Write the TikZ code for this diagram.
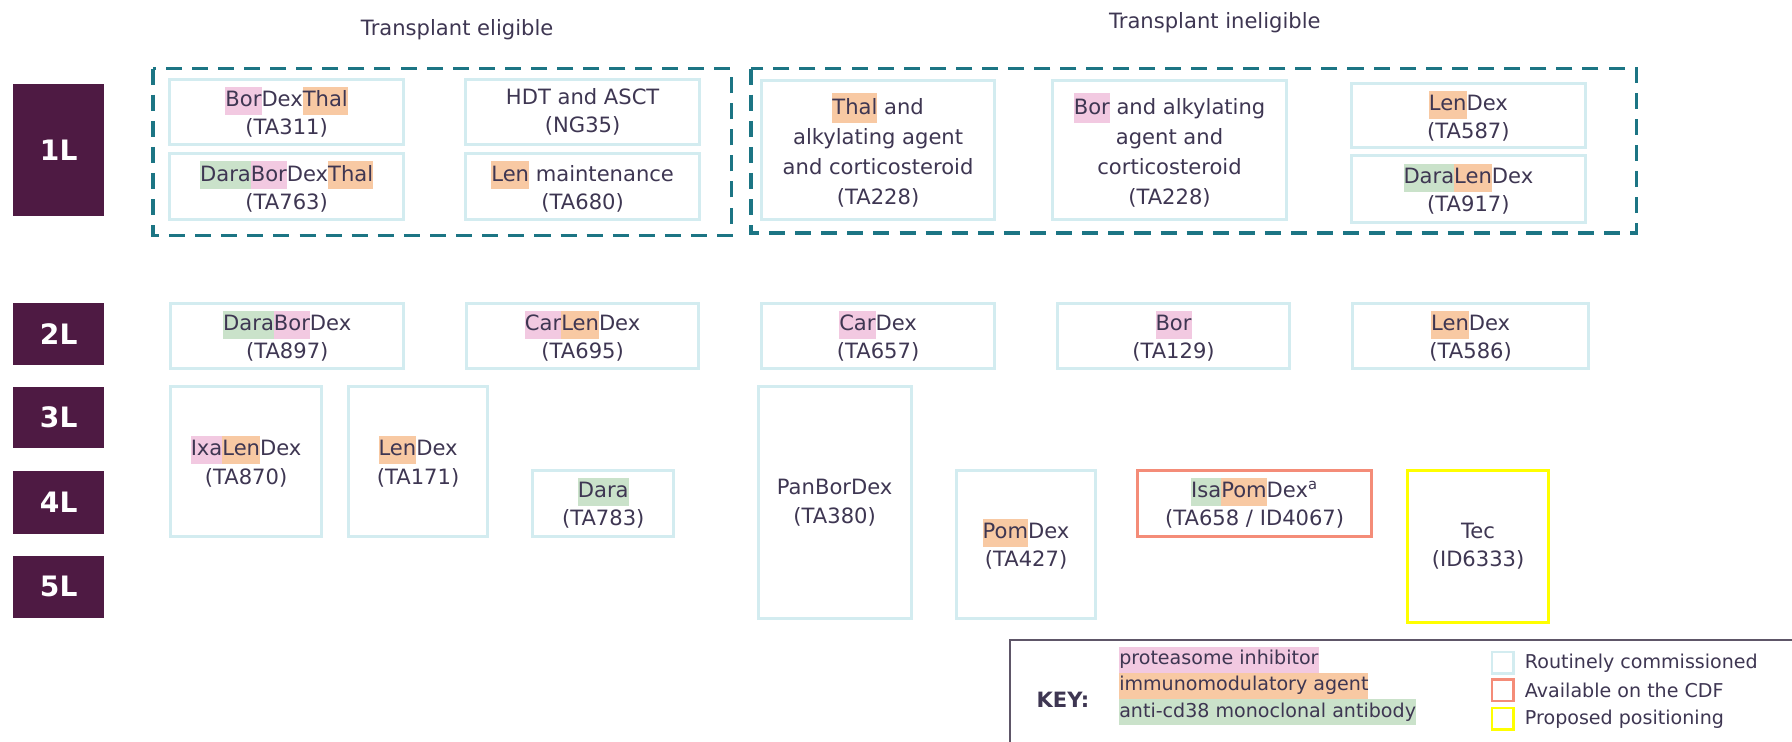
\documentclass[tikz,border=0pt]{standalone}
\usepackage{fontspec}
\setmainfont{DejaVu Sans}
\definecolor{plum}{HTML}{4E1A43}
\definecolor{groupteal}{HTML}{1C7584}
\definecolor{routine}{HTML}{D3ECF0}
\definecolor{cdf}{HTML}{F48C78}
\definecolor{proposed}{HTML}{FFFF00}
\definecolor{pinkhl}{HTML}{F2C9E1}
\definecolor{orangehl}{HTML}{F8C9A3}
\definecolor{greenhl}{HTML}{CAE2CA}
\definecolor{txt}{HTML}{3E3652}
\definecolor{keyline}{HTML}{5E5668}
% resaltado por clase de farmaco
\newcommand{\hlp}[1]{{\setlength{\fboxsep}{0pt}\colorbox{pinkhl}{\strut #1}}}
\newcommand{\hlo}[1]{{\setlength{\fboxsep}{0pt}\colorbox{orangehl}{\strut #1}}}
\newcommand{\hlg}[1]{{\setlength{\fboxsep}{0pt}\colorbox{greenhl}{\strut #1}}}
\begin{document}
\begin{tikzpicture}[x=0.02cm, y=-0.02cm,
    lvl/.style={fill=plum, text=white, font=\fontsize{14}{16}\selectfont\bfseries, anchor=north west, inner sep=0pt},
    drug/.style={draw=routine, line width=1.5pt, text=txt, align=center, anchor=north west, inner sep=0pt, font=\fontsize{10.5}{14}\selectfont},
    bsize/.style 2 args={minimum width=#1*0.02cm, minimum height=#2*0.02cm},
    group/.style={draw=groupteal, line width=1.7pt, dash pattern=on 8pt off 5pt},
    legsq/.style={draw=#1, line width=1.3pt, minimum size=0.38cm, inner sep=0pt},
    keytext/.style={text=txt, font=\fontsize{9.5}{13}\selectfont, inner sep=0pt}]
    \useasboundingbox (0,0) rectangle (1568,649);
    \clip (0,0) rectangle (1568,649);
    % lineas de tratamiento
    \node[lvl, bsize={80}{116}] (l1) at (11,73) {1L};
    \node[lvl, bsize={80}{54}] (l2) at (11,265) {2L};
    \node[lvl, bsize={80}{54}] (l3) at (11,338) {3L};
    \node[lvl, bsize={80}{55}] (l4) at (11,412) {4L};
    \node[lvl, bsize={80}{54}] (l5) at (11,486) {5L};
    % grupos de primera linea
    \node[text=txt, font=\fontsize{10.5}{13}\selectfont] (elig) at (400,26) {Transplant eligible};
    \node[text=txt, font=\fontsize{10.5}{13}\selectfont] (inelig) at (1063,20) {Transplant ineligible};
    \draw[group] (134,60) rectangle (640,206);
    \draw[group] (657,60) rectangle (1432,204);
    % 1L
    \node[drug, bsize={205}{57}] (ta311) at (147,68) {\hlp{Bor}Dex\hlo{Thal}\\(TA311)};
    \node[drug, bsize={205}{58}] (ta763) at (147,133) {\hlg{Dara}\hlp{Bor}Dex\hlo{Thal}\\(TA763)};
    \node[drug, bsize={205}{57}] (ng35) at (406,68) {HDT and ASCT\\(NG35)};
    \node[drug, bsize={205}{58}] (ta680) at (406,133) {\hlo{Len} maintenance\\(TA680)};
    \node[drug, bsize={204}{122}, font=\fontsize{10.5}{15}\selectfont] (ta228a) at (665,69)
        {\hlo{Thal} and\\alkylating agent\\and corticosteroid\\(TA228)};
    \node[drug, bsize={204}{122}, font=\fontsize{10.5}{15}\selectfont] (ta228b) at (920,69)
        {\hlp{Bor} and alkylating\\agent and\\corticosteroid\\(TA228)};
    \node[drug, bsize={205}{56}] (ta587) at (1181,72) {\hlo{Len}Dex\\(TA587)};
    \node[drug, bsize={205}{58}] (ta917) at (1181,135) {\hlg{Dara}\hlo{Len}Dex\\(TA917)};
    % 2L
    \node[drug, bsize={204}{57}] (ta897) at (148,264) {\hlg{Dara}\hlp{Bor}Dex\\(TA897)};
    \node[drug, bsize={203}{57}] (ta695) at (407,264) {\hlp{Car}\hlo{Len}Dex\\(TA695)};
    \node[drug, bsize={204}{57}] (ta657) at (665,264) {\hlp{Car}Dex\\(TA657)};
    \node[drug, bsize={203}{57}] (ta129) at (924,264) {\hlp{Bor}\\(TA129)};
    \node[drug, bsize={207}{57}] (ta586) at (1182,264) {\hlo{Len}Dex\\(TA586)};
    % 3L en adelante
    \node[drug, bsize={132}{131}] (ta870) at (148,337) {\hlp{Ixa}\hlo{Len}Dex\\(TA870)};
    \node[drug, bsize={121}{131}] (ta171) at (304,337) {\hlo{Len}Dex\\(TA171)};
    \node[drug, bsize={123}{58}] (ta783) at (465,410) {\hlg{Dara}\\(TA783)};
    \node[drug, bsize={134}{203}] (ta380) at (662,337) {PanBorDex\\(TA380)};
    \node[drug, bsize={121}{130}] (ta427) at (836,410) {\hlo{Pom}Dex\\(TA427)};
    \node[drug, draw=cdf, bsize={205}{58}] (id4067) at (994,410)
        {\hlg{Isa}\hlo{Pom}Dex\textsuperscript{a}\\(TA658 / ID4067)};
    \node[drug, draw=proposed, bsize={124}{133}] (id6333) at (1230,410) {Tec\\(ID6333)};
    % leyenda
    \draw[keyline, line width=0.8pt] (884,560) rectangle (1600,700);
    \node[text=txt, font=\fontsize{10.5}{13}\selectfont\bfseries] (key) at (930,612) {KEY:};
    \node[keytext, anchor=west, align=left] (classes) at (979,600)
        {\hlp{proteasome inhibitor}\\\hlo{immunomodulatory agent}\\\hlg{anti-cd38 monoclonal antibody}};
    \node[legsq=routine] (sq1) at (1315,580) {};
    \node[legsq=cdf] (sq2) at (1315,604) {};
    \node[legsq=proposed] (sq3) at (1315,629) {};
    \node[keytext, anchor=west] (lab1) at (1334,580) {Routinely commissioned};
    \node[keytext, anchor=west] (lab2) at (1334,604) {Available on the CDF};
    \node[keytext, anchor=west] (lab3) at (1334,629) {Proposed positioning};
\end{tikzpicture}
\end{document}
